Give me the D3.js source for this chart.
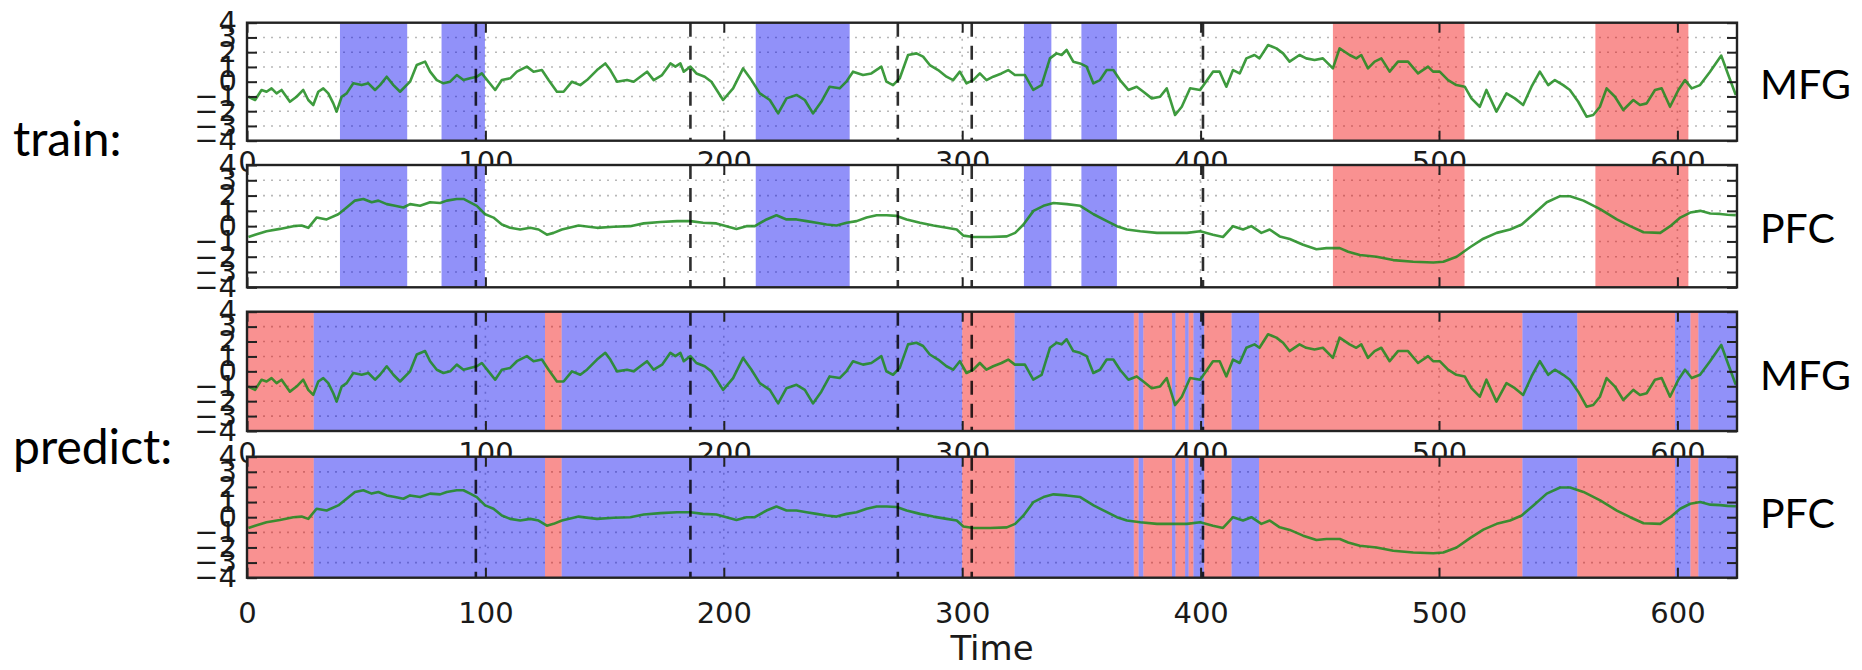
<!DOCTYPE html>
<html>
<head>
<meta charset="utf-8">
<script src="https://cdn.jsdelivr.net/npm/d3@7"></script>
<style>
  html, body { margin: 0; background: #fff; }
  svg { display: block; }
</style>
</head>
<body>
<svg id="chart" width="1862" height="670"></svg>
<script>
/* ── datos ── */
const xTicks = [0, 100, 200, 300, 400, 500, 600];
const yTicks = [-4, -3, -2, -1, 0, 1, 2, 3, 4];

// líneas verticales discontinuas (tiempo)
const dashTimes = [96, 186, 273, 304, 401];

// bloques de entrenamiento (el resto queda en blanco)
const trainBlue = [[39, 67.2], [81.6, 99.8], [213.4, 252.8], [325.9, 337.4], [350, 364.9]];
const trainRed  = [[455.5, 510.7], [565.6, 604.6]];

// predicción: cubre todo el eje, límites + estado de cada tramo
const predictBounds = [0, 28, 125, 132, 300, 322, 372, 374, 376, 388, 389.5, 393.5, 395, 397,
                       401.5, 413, 424.5, 535, 558, 599, 605.5, 608.8, 625];
const predictStates = ["red", "blue", "red", "blue", "red", "blue", "red", "blue", "red", "blue", "red",
                       "blue", "red", "blue", "red", "blue", "red", "blue", "red", "blue", "red", "blue"];

// señal MFG
const mfgTime = [0.6, 3.4, 6.1, 8.2, 10.3, 12.4, 14.5, 18, 20.8, 23.6, 25.7, 27.8, 29.9, 32, 34.1, 36.2, 37.6,
  39.7, 41.8, 44.6, 48.1, 50.9, 53.7, 55.8, 58.6, 61.4, 64.2, 68.4, 71.2, 74.7, 76.8, 79.6, 82.4, 85.2, 88,
  90.8, 93.6, 96.4, 98.5, 101.3, 104.1, 106.9, 110.4, 113.2, 117.4, 120.2, 123.7, 126.5, 130, 132.8, 136.3,
  139.8, 142.6, 146.8, 150.3, 152.4, 155.2, 159.4, 162.2, 165, 167.8, 170.6, 174.1, 177.6, 179.7, 181.8,
  183.2, 186, 188.5, 192, 194.8, 199.7, 203.9, 208.1, 211.6, 215.1, 219.3, 222.8, 226.3, 230.5, 234, 237.4,
  240.9, 244.4, 248.6, 251.4, 254.2, 258.4, 261.9, 266.1, 268.2, 271, 273.8, 277.3, 280.8, 283.6, 286.4,
  289.9, 293.4, 296.2, 299, 301.8, 304.6, 307.4, 310.2, 313, 316.5, 319.3, 322.1, 326.3, 329.8, 333.3,
  336.8, 339.6, 341.7, 343.8, 346.6, 349.4, 352.2, 355, 357.8, 360.6, 363.4, 366.2, 369.7, 373.2, 376,
  379.5, 383, 385.8, 389.3, 392.1, 395.6, 399.8, 405.2, 408, 410.8, 413.6, 416.4, 419.2, 422.6, 424.7,
  428.3, 431.8, 434.6, 437.3, 441.5, 444.3, 447.8, 451.3, 455.5, 458.3, 462.5, 465.3, 467.4, 470.2, 473,
  475.8, 479.3, 482.8, 487, 491.2, 495.4, 497.5, 500.3, 503.8, 507.3, 510.8, 513.6, 517.1, 519.9, 524.1,
  528.3, 531.8, 535.3, 538.8, 542.3, 545.8, 548.6, 552.1, 554.9, 558.4, 561.9, 564.7, 567.5, 570.3, 573.8,
  577.3, 581.5, 584.3, 587.1, 590.6, 593.4, 596.9, 600.4, 603.2, 606, 609.5, 613.7, 618.4, 621.4, 624.5];
const mfgValue = [-1.02, -1.24, -0.56, -0.68, -0.45, -0.79, -0.56, -1.36, -1.02, -0.56, -1.24, -1.58, -0.68,
  -0.45, -0.79, -1.47, -2.03, -1.02, -0.79, -0.11, -0.23, -0.11, -0.56, -0.23, 0.34, -0.23, -0.68, 0, 1.13,
  1.36, 0.68, 0.11, -0.11, 0, 0.45, 0.11, 0.23, 0.34, 0.56, 0, -0.56, 0.11, 0.23, 0.68, 1.02, 0.68, 0.79,
  0.11, -0.68, -0.68, 0, -0.23, 0.11, 0.79, 1.24, 0.79, 0, 0.11, 0, 0.34, 0.68, 0.11, 0.45, 1.24, 1.02,
  1.24, 0.68, 1.02, 0.56, 0.34, 0, -1.24, -0.45, 0.9, 0.11, -0.79, -1.24, -2.15, -1.13, -0.9, -1.24, -2.15,
  -1.36, -0.34, -0.45, 0, 0.68, 0.45, 0.56, 1.02, 0, -0.23, 0.23, 1.81, 1.92, 1.7, 1.13, 0.79, 0.34, 0.11,
  0.68, -0.11, 0.11, 0.56, 0.11, 0.34, 0.56, 0.79, 0.45, 0.45, -0.56, -0.23, 1.58, 1.92, 1.81, 2.15, 1.36,
  1.24, 1.02, -0.11, 0.11, 0.79, 0.79, 0.11, -0.56, -0.34, -0.68, -1.13, -1.02, -0.45, -2.26, -1.7, -0.45,
  -0.56, 0.68, 0.68, -0.34, 0.79, 0.56, 1.58, 1.81, 1.58, 2.49, 2.26, 1.92, 1.36, 1.81, 1.58, 1.47, 1.58,
  0.9, 2.26, 1.81, 1.58, 1.81, 0.9, 1.36, 1.58, 0.68, 1.36, 1.36, 0.56, 1.02, 0.68, 0.68, 0.11, -0.23,
  -0.34, -1.13, -1.7, -0.56, -2.03, -0.79, -1.13, -1.58, -0.34, 0.68, -0.23, 0.11, -0.23, -0.56, -1.36,
  -2.37, -2.26, -1.7, -0.45, -1.02, -1.92, -1.24, -1.58, -1.47, -0.56, -0.45, -1.7, -0.56, 0.11, -0.45,
  -0.23, 0.68, 1.77, 0.44, -0.9];

// señal PFC
const pfcTime = [0.6, 3.4, 8.2, 13.8, 19.4, 22.9, 25.7, 29.2, 33.4, 38.3, 41.8, 45.3, 48.8, 52.3, 55.1, 58.6,
  62.1, 65.6, 68.4, 72.6, 76.8, 81, 83.8, 88, 90.8, 93.6, 96.4, 99.9, 103.4, 106.9, 110.4, 114.6, 118.8,
  122.3, 125.8, 128.6, 132.1, 139.1, 146.8, 153.8, 160.8, 166.4, 173.4, 180.4, 186, 191.3, 196.9, 201.1,
  205.3, 209.5, 213, 217.9, 222.1, 226.3, 230.5, 234.7, 238.9, 243.1, 247.3, 251.5, 255.7, 259.9, 264.1,
  268.3, 272.5, 276.7, 282.3, 287.9, 293.5, 297.7, 300.5, 304.7, 311.7, 318.7, 322.2, 325.7, 329.9, 334.1,
  338.3, 343.9, 349.5, 355.1, 360.7, 364.9, 369.1, 374.7, 381.7, 388.7, 394.3, 399.8, 405.2, 409.4, 413.6,
  417.8, 421.3, 425.5, 429, 433.2, 437.4, 443, 448.6, 452.8, 458.4, 461.9, 466.8, 473.8, 480.8, 489.2,
  497.6, 501.8, 507.4, 513, 518.6, 524.2, 529.8, 534.7, 539.6, 545.2, 550.8, 555, 560.6, 567.6, 574.6,
  580.2, 585.8, 592.8, 597, 601.2, 605.4, 609.6, 613.8, 618, 621, 624.5];
const pfcValue = [-0.71, -0.56, -0.33, -0.18, 0, 0.04, -0.11, 0.56, 0.44, 0.78, 1.22, 1.67, 1.78, 1.56, 1.67,
  1.44, 1.33, 1.22, 1.44, 1.33, 1.56, 1.51, 1.67, 1.78, 1.78, 1.56, 1.33, 0.78, 0.56, 0.11, -0.11, -0.22,
  -0.11, -0.22, -0.56, -0.44, -0.22, 0.04, -0.11, -0.04, 0, 0.18, 0.27, 0.33, 0.33, 0.22, 0.18, 0, -0.18, 0,
  0, 0.44, 0.71, 0.44, 0.44, 0.33, 0.22, 0.11, 0.04, 0.22, 0.33, 0.56, 0.71, 0.71, 0.67, 0.44, 0.22, 0.04,
  -0.11, -0.22, -0.62, -0.71, -0.71, -0.67, -0.44, 0.11, 1, 1.33, 1.51, 1.44, 1.33, 0.78, 0.33, 0, -0.22,
  -0.33, -0.44, -0.44, -0.44, -0.33, -0.56, -0.71, 0, -0.22, 0, -0.44, -0.22, -0.67, -0.84, -1.22, -1.51,
  -1.44, -1.44, -1.67, -1.89, -2, -2.22, -2.33, -2.38, -2.33, -2, -1.38, -0.82, -0.44, -0.22, 0.11, 0.78,
  1.56, 1.96, 1.96, 1.67, 1.11, 0.44, 0, -0.4, -0.44, 0, 0.56, 0.89, 1, 0.83, 0.8, 0.75, 0.72];

/* ── tablas armadas a partir de los arrays ── */
const signals = {
  MFG: mfgTime.map((t, i) => ({ t, v: mfgValue[i] })),
  PFC: pfcTime.map((t, i) => ({ t, v: pfcValue[i] }))
};
const spans = {
  train: [
    ...trainBlue.map(([a, b]) => ({ a, b, state: "blue" })),
    ...trainRed.map(([a, b]) => ({ a, b, state: "red" }))
  ],
  predict: predictStates.map((state, i) => ({ a: predictBounds[i], b: predictBounds[i + 1], state }))
};
const spanFill = { blue: "#0000f0", red: "#f00000" };

/* ── layout ── */
const svg = d3.select("#chart");
const x = d3.scaleLinear().domain([0, 625]).range([247, 1737]);
const tickFont = "'DejaVu Sans', sans-serif";
const labelFont = "Lato, 'Open Sans', sans-serif";

const panels = [
  { top: 22.7,  bottom: 140.7, signal: "MFG", phase: "train",   pad: 11,   labelY: 99 },
  { top: 165,   bottom: 287.3, signal: "PFC", phase: "train",   pad: null, labelY: 243 },
  { top: 311.7, bottom: 431,   signal: "MFG", phase: "predict", pad: 11,   labelY: 390 },
  { top: 456.7, bottom: 577.7, signal: "PFC", phase: "predict", pad: 25,   labelY: 528 }
];

const fmt = d3.format("d");

panels.forEach((p, idx) => {
  const y = d3.scaleLinear().domain([-4, 4]).range([p.bottom, p.top]);
  const [x0, x1] = x.range();
  const g = svg.append("g");

  // fondo blanco (tapa las etiquetas del panel anterior)
  g.append("rect")
    .attr("x", x0).attr("y", p.top)
    .attr("width", x1 - x0).attr("height", p.bottom - p.top)
    .attr("fill", "#fff");

  g.append("clipPath").attr("id", "clip" + idx)
    .append("rect")
    .attr("x", x0).attr("y", p.top)
    .attr("width", x1 - x0).attr("height", p.bottom - p.top);

  const inner = g.append("g").attr("clip-path", `url(#clip${idx})`);

  // rejilla punteada
  inner.append("g").selectAll("line")
    .data(yTicks.slice(1, -1))
    .join("line")
    .attr("x1", x0).attr("x2", x1)
    .attr("y1", d => y(d)).attr("y2", d => y(d))
    .attr("stroke", "#b8b8b8").attr("stroke-width", 1.6)
    .attr("stroke-dasharray", "2,6");

  inner.append("g").selectAll("line")
    .data(xTicks.slice(1))
    .join("line")
    .attr("x1", d => x(d)).attr("x2", d => x(d))
    .attr("y1", p.top).attr("y2", p.bottom)
    .attr("stroke", "#b8b8b8").attr("stroke-width", 1.6)
    .attr("stroke-dasharray", "2,6");

  // bandas de estado
  inner.append("g").selectAll("rect")
    .data(spans[p.phase])
    .join("rect")
    .attr("x", d => x(d.a))
    .attr("width", d => x(d.b) - x(d.a))
    .attr("y", p.top).attr("height", p.bottom - p.top)
    .attr("fill", d => spanFill[d.state])
    .attr("fill-opacity", 0.43);

  // señal
  inner.append("path")
    .datum(signals[p.signal])
    .attr("fill", "none")
    .attr("stroke", "#1c8a1c")
    .attr("stroke-width", 2.6)
    .attr("stroke-opacity", 0.85)
    .attr("stroke-linejoin", "round")
    .attr("d", d3.line().x(d => x(d.t)).y(d => y(d.v)));

  // líneas discontinuas
  inner.append("g").selectAll("line")
    .data(dashTimes)
    .join("line")
    .attr("x1", d => x(d)).attr("x2", d => x(d))
    .attr("y1", p.top).attr("y2", p.bottom)
    .attr("stroke", "#000").attr("stroke-width", 2.6)
    .attr("stroke-opacity", 0.82)
    .attr("stroke-dasharray", "14,9");

  // ejes (ticks hacia adentro)
  const left = g.append("g")
    .attr("transform", `translate(${x0},0)`)
    .call(d3.axisLeft(y).tickValues(yTicks).tickSize(-10).tickPadding(10).tickFormat(fmt));

  g.append("g")
    .attr("transform", `translate(${x1},0)`)
    .call(d3.axisRight(y).tickValues(yTicks).tickSize(-10).tickFormat(""));

  g.append("g")
    .attr("transform", `translate(0,${p.top})`)
    .call(d3.axisTop(x).tickValues(xTicks).tickSize(-10).tickFormat(""));

  const bottom = g.append("g")
    .attr("transform", `translate(0,${p.bottom})`)
    .call(d3.axisBottom(x).tickValues(xTicks).tickSize(-10)
      .tickPadding(p.pad === null ? 0 : p.pad)
      .tickFormat(p.pad === null ? "" : fmt));

  g.selectAll(".domain").remove();
  g.selectAll(".tick line").attr("stroke", "#222").attr("stroke-width", 2);
  g.selectAll(".tick text")
    .attr("font-family", tickFont)
    .attr("font-size", 29)
    .attr("fill", "#1a1a1a");
  [left, bottom].forEach(a => a.attr("font-size", null).attr("font-family", null));

  // marco
  g.append("rect")
    .attr("x", x0).attr("y", p.top)
    .attr("width", x1 - x0).attr("height", p.bottom - p.top)
    .attr("fill", "none")
    .attr("stroke", "#222").attr("stroke-width", 2.4);

  // nombre de la señal
  svg.append("text")
    .attr("x", 1760).attr("y", p.labelY)
    .attr("font-family", labelFont)
    .attr("font-size", 41)
    .attr("fill", "#000")
    .text(p.signal);
});

/* ── textos generales ── */
svg.append("text")
  .attr("x", 13).attr("y", 156)
  .attr("font-family", labelFont).attr("font-size", 48)
  .text("train:");

svg.append("text")
  .attr("x", 13).attr("y", 464)
  .attr("font-family", labelFont).attr("font-size", 48)
  .text("predict:");

svg.append("text")
  .attr("x", (x.range()[0] + x.range()[1]) / 2).attr("y", 660)
  .attr("text-anchor", "middle")
  .attr("font-family", tickFont).attr("font-size", 34)
  .attr("fill", "#1a1a1a")
  .text("Time");
</script>
</body>
</html>
